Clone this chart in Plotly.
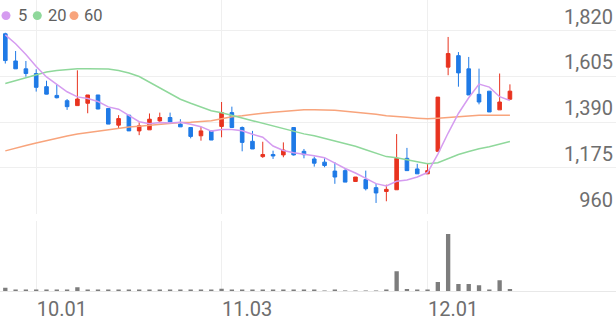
import plotly.graph_objects as go

W, H = 616, 321

dates = (["2025-09-26", "2025-09-29", "2025-09-30", "2025-10-01", "2025-10-02", "2025-10-10"]
         + ["2025-10-%02d" % d for d in [13, 14, 15, 16, 17, 20, 21, 22, 23, 24, 27, 28, 29, 30, 31]]
         + ["2025-11-%02d" % d for d in [3, 4, 5, 6, 7, 10, 11, 12, 13, 14, 17, 18, 19, 20, 21, 24, 25, 26, 27, 28]]
         + ["2025-12-%02d" % d for d in [1, 2, 3, 4, 5, 8, 9, 10, 11]])

open_ = [1806, 1678, 1641, 1619, 1557, 1516, 1491, 1468, 1479, 1518,
         1454, 1376, 1423, 1349, 1354, 1396, 1412, 1381, 1365, 1326,
         1349, 1370, 1435, 1365, 1300, 1228, 1238, 1236, 1365, 1253,
         1217, 1202, 1160, 1162, 1111, 1120, 1082, 1064, 1072, 1220,
         1170, 1147, 1253, 1649, 1703, 1641, 1521, 1536, 1448, 1498]
high = [1811, 1725, 1678, 1639, 1585, 1568, 1499, 1634, 1518, 1518,
        1454, 1423, 1423, 1389, 1431, 1435, 1435, 1404, 1365, 1368,
        1349, 1485, 1463, 1370, 1349, 1298, 1256, 1295, 1365, 1264,
        1228, 1220, 1202, 1170, 1132, 1162, 1100, 1096, 1334, 1269,
        1194, 1194, 1508, 1791, 1720, 1697, 1642, 1536, 1619, 1568]
low = [1666, 1641, 1604, 1534, 1521, 1502, 1448, 1468, 1432, 1451,
       1381, 1361, 1349, 1329, 1354, 1391, 1391, 1368, 1314, 1303,
       1306, 1319, 1365, 1253, 1264, 1222, 1217, 1225, 1233, 1220,
       1181, 1178, 1100, 1108, 1111, 1069, 1010, 1018, 1072, 1162,
       1147, 1147, 1253, 1611, 1557, 1518, 1474, 1438, 1448, 1494]
close = [1680, 1641, 1619, 1554, 1522, 1505, 1463, 1499, 1518, 1452,
         1381, 1407, 1349, 1373, 1404, 1412, 1391, 1368, 1323, 1349,
         1306, 1435, 1365, 1295, 1264, 1238, 1231, 1259, 1236, 1237,
         1197, 1186, 1132, 1108, 1132, 1077, 1057, 1074, 1220, 1162,
         1147, 1162, 1508, 1713, 1622, 1518, 1485, 1438, 1485, 1536]
volume = [350000, 150000, 140000, 160000, 150000, 140000, 150000, 400000, 150000, 140000,
          150000, 140000, 150000, 130000, 150000, 140000, 130000, 150000, 140000, 130000,
          140000, 250000, 100000, 90000, 100000, 90000, 80000, 90000, 100000, 80000,
          60000, 50000, 60000, 50000, 50000, 40000, 50000, 60000, 2000000, 230000,
          70000, 100000, 930000, 5760000, 730000, 730000, 600000, 160000, 1100000, 230000]

ma5 = [1801, 1759, 1708, 1652, 1603, 1568, 1533, 1509, 1501, 1487,
       1462, 1451, 1421, 1392, 1383, 1389, 1386, 1390, 1380, 1369,
       1348, 1356, 1356, 1350, 1333, 1319, 1278, 1257, 1246, 1240,
       1232, 1223, 1197, 1172, 1151, 1127, 1101, 1090, 1112, 1118,
       1132, 1153, 1240, 1339, 1431, 1505, 1569, 1555, 1510, 1492]
ma20 = [1572, 1586, 1600, 1614, 1626, 1633, 1638, 1642, 1642, 1642,
        1640, 1633, 1621, 1605, 1579, 1554, 1526, 1498, 1479, 1460,
        1444, 1434, 1423, 1410, 1397, 1384, 1372, 1360, 1346, 1335,
        1326, 1314, 1304, 1290, 1277, 1260, 1243, 1228, 1223, 1214,
        1206, 1194, 1199, 1220, 1238, 1252, 1265, 1274, 1286, 1299]
ma60 = [1255, 1269, 1280, 1292, 1304, 1315, 1325, 1334, 1341, 1348,
        1355, 1362, 1367, 1371, 1376, 1381, 1385, 1388, 1390, 1392,
        1397, 1406, 1416, 1420, 1427, 1432, 1437, 1441, 1446, 1448,
        1448, 1448, 1446, 1441, 1437, 1432, 1427, 1420, 1418, 1413,
        1409, 1406, 1409, 1413, 1418, 1420, 1423, 1423, 1423, 1423]

price_ticks = [960, 1175, 1390, 1605, 1820]
x_tick_dates = ["2025-10-01", "2025-11-03", "2025-12-01"]
x_tick_text = ["10.01", "11.03", "12.01"]

ma_names = ["5", "20", "60"]
ma_colors = ["#d59cf0", "#8fd89b", "#f8a47c"]
UP, DOWN = "#e8331f", "#1f7ae6"
GRID = "#efefef"
TXT = "#6e6e6e"

fig = go.Figure()

for vals, col in zip([ma60, ma20, ma5], [ma_colors[2], ma_colors[1], ma_colors[0]]):
    fig.add_trace(go.Scatter(x=dates, y=vals, mode="lines", line=dict(color=col, width=1.5),
                             xaxis="x", yaxis="y", hoverinfo="skip", showlegend=False))

fig.add_trace(go.Candlestick(
    x=dates, open=open_, high=high, low=low, close=close,
    increasing=dict(line=dict(color=UP, width=1), fillcolor=UP),
    decreasing=dict(line=dict(color=DOWN, width=1), fillcolor=DOWN),
    whiskerwidth=0, xaxis="x", yaxis="y", showlegend=False))

fig.add_trace(go.Bar(x=dates, y=volume, width=0.42, marker=dict(color="#7d7d7d", line=dict(width=0)),
                     xaxis="x2", yaxis="y2", showlegend=False))

def px_x(p):
    return p / W

def px_y(p):
    return 1 - p / H

xr = [-0.515, 59.3]
fig.update_layout(
    width=W, height=H,
    margin=dict(l=0, r=0, t=0, b=0),
    paper_bgcolor="white", plot_bgcolor="white",
    showlegend=False, boxgap=0.5,
    font=dict(family="Roboto", color=TXT),
    xaxis=dict(type="category", range=xr, domain=[0, 1], anchor="y",
               rangeslider=dict(visible=False), showticklabels=False,
               tickmode="array", tickvals=x_tick_dates, showgrid=True, gridcolor=GRID,
               gridwidth=1, zeroline=False, showline=False, ticks=""),
    yaxis=dict(domain=[px_y(215), 1], range=[959.6, 1964.9], side="right",
               tickmode="array", tickvals=price_ticks, tickformat=",",
               ticklabelposition="inside top", showgrid=True, gridcolor=GRID,
               zeroline=False, showline=False, ticks="",
               tickfont=dict(size=20, color=TXT, family="Roboto")),
    xaxis2=dict(type="category", range=xr, domain=[0, 1], anchor="y2", matches="x",
                tickmode="array", tickvals=x_tick_dates, ticktext=x_tick_text,
                ticklabelposition="outside right", showgrid=True, gridcolor=GRID,
                zeroline=False, showline=True, linecolor="#e8e8e8", ticks="",
                tickfont=dict(size=20, color=TXT, family="Roboto")),
    yaxis2=dict(domain=[px_y(293), px_y(222)], range=[0, 7100000], showgrid=False,
                showticklabels=False, zeroline=False, showline=False, ticks=""),
)

# legend: dots + labels
legend_x = [6, 37.3, 74]
text_x = [15.5, 45.5, 82]
shapes = []
for cx, col in zip(legend_x, ma_colors):
    r = 4.5
    shapes.append(dict(type="circle", xref="paper", yref="paper",
                       x0=px_x(cx - r), x1=px_x(cx + r), y0=px_y(15.7 + r), y1=px_y(15.7 - r),
                       fillcolor=col, line=dict(width=0)))
fig.update_layout(shapes=shapes)
for tx, name in zip(text_x, ma_names):
    fig.add_annotation(x=px_x(tx), y=px_y(15.7), xref="paper", yref="paper", text=name,
                       showarrow=False, xanchor="left", yanchor="middle",
                       font=dict(size=16.5, color="#5f5f5f", family="Roboto"))

fig.write_html("out.html")
